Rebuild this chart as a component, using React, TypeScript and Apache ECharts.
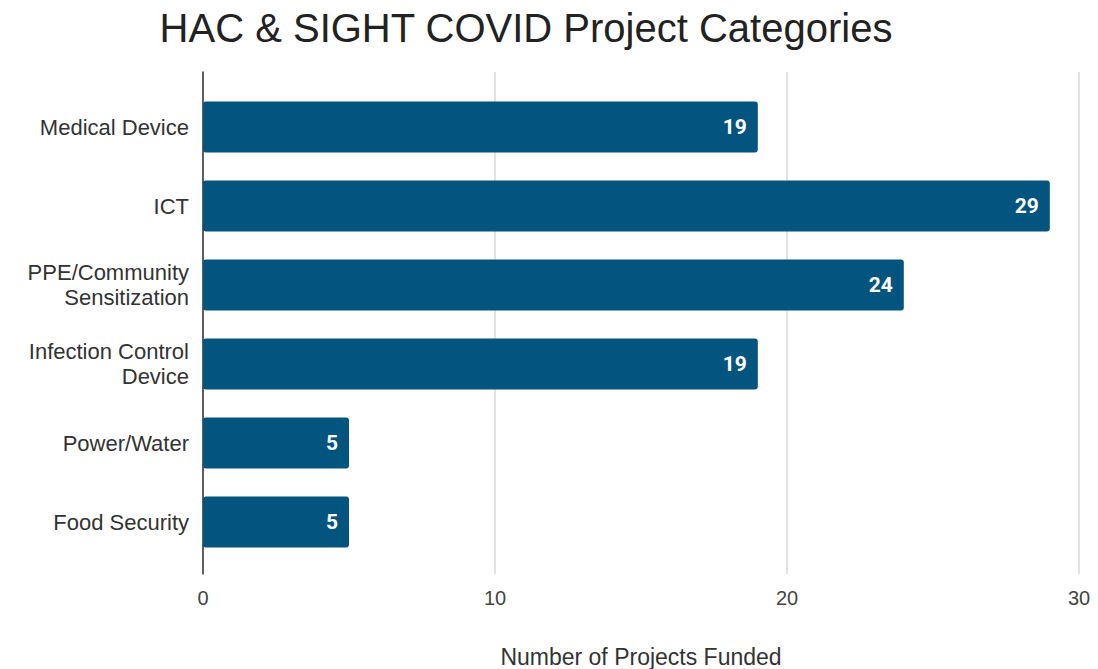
import React, { useEffect, useRef } from "react";
import * as echarts from "echarts";

const categories = [
  "Medical Device",
  "ICT",
  "PPE/Community\nSensitization",
  "Infection Control\nDevice",
  "Power/Water",
  "Food Security",
];
const values = [19, 29, 24, 19, 5, 5];
const xTicks = [0, 10, 20, 30];

const FONT = "'Liberation Sans', Arial, sans-serif";

export default function App() {
  const ref = useRef<HTMLDivElement>(null);
  useEffect(() => {
    document.body.style.margin = "0";
    if (!ref.current) return;
    const chart = echarts.init(ref.current, undefined, { renderer: "svg" });
    chart.setOption({
      animation: false,
      backgroundColor: "#ffffff",
      title: {
        text: "HAC & SIGHT COVID Project Categories",
        left: 521,
        textAlign: "center",
        top: 3,
        textStyle: {
          fontFamily: FONT,
          fontSize: 40,
          fontWeight: "normal",
          color: "#222",
        },
      },
      grid: [
        { left: 203, right: 19, top: 72, bottom: 95, outerBoundsMode: "none", containLabel: false },
        { left: 203, right: 19, top: 87.5, bottom: 107.5, outerBoundsMode: "none", containLabel: false },
      ],
      xAxis: [
        {
          gridIndex: 0,
          type: "value",
          min: xTicks[0],
          max: xTicks[xTicks.length - 1],
          interval: 10,
          axisLine: { show: false },
          axisTick: { show: false },
          splitLine: { lineStyle: { color: "#d9d9d9", width: 1.5 } },
          axisLabel: {
            fontFamily: FONT,
            fontSize: 20,
            color: "#444",
            margin: 14,
          },
          name: "Number of Projects Funded",
          nameLocation: "middle",
          nameGap: 71,
          nameTextStyle: {
            fontFamily: FONT,
            fontSize: 23,
            color: "#333",
          },
        },
        {
          gridIndex: 1,
          type: "value",
          min: 0,
          max: 30,
          show: false,
        },
      ],
      yAxis: [
        {
          gridIndex: 0,
          type: "value",
          min: 0,
          max: 1,
          axisLine: { show: true, lineStyle: { color: "#333", width: 1.5 } },
          axisTick: { show: false },
          axisLabel: { show: false },
          splitLine: { show: false },
        },
        {
          gridIndex: 1,
          type: "category",
          inverse: true,
          data: categories,
          axisLine: { show: false },
          axisTick: { show: false },
          axisLabel: {
            fontFamily: FONT,
            fontSize: 22,
            color: "#333",
            margin: 14,
            lineHeight: 25,
            align: "right",
          },
        },
      ],
      series: [
        {
          type: "bar",
          xAxisIndex: 1,
          yAxisIndex: 1,
          data: values,
          barWidth: 51,
          itemStyle: { color: "#03557f", borderRadius: 3 },
          label: {
            show: true,
            position: "insideRight",
            distance: 11,
            color: "#ffffff",
            fontFamily: "Roboto, sans-serif",
            fontWeight: "bold",
            fontSize: 21,
          },
        },
      ],
    });
    return () => chart.dispose();
  }, []);
  return <div ref={ref} style={{ width: 1098, height: 669 }} />;
}
